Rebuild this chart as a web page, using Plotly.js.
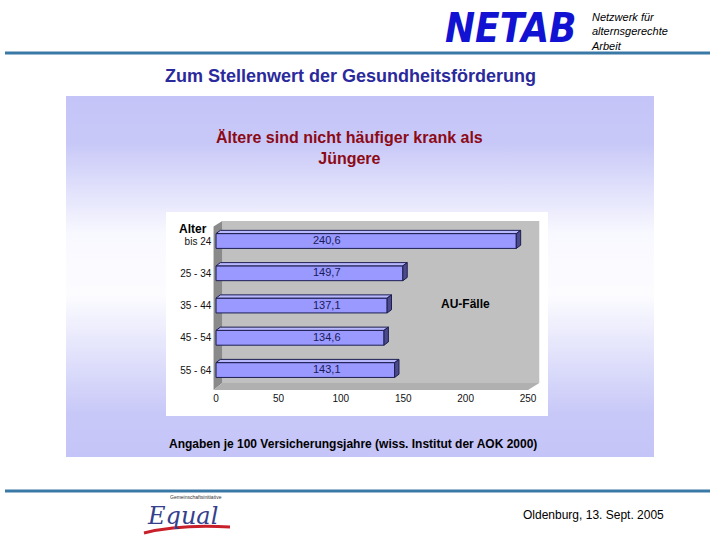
<!DOCTYPE html>
<html>
<head>
<meta charset="utf-8">
<script src="https://cdn.plot.ly/plotly-3.0.1.min.js"></script>
<style>html,body{margin:0;padding:0;background:#fff;}#chart{width:720px;height:540px;}</style>
</head>
<body>
<div id="chart"></div>
<script>
// ---- data ----
const ageGroups = ["bis 24", "25 - 34", "35 - 44", "45 - 54", "55 - 64"];
const auFaelle = [240.6, 149.7, 137.1, 134.6, 143.1];
const xTickVals = [0, 50, 100, 150, 200, 250];
const slideTitle = "Zum Stellenwert der Gesundheitsförderung";
const chartTitle = "Ältere sind nicht häufiger krank als<br>Jüngere";
const sourceNote = "Angaben je 100 Versicherungsjahre (wiss. Institut der AOK 2000)";
const seriesName = "AU-Fälle";
const axisName = "Alter";
const footerText = "Oldenburg, 13. Sept. 2005";
const orgLines = "Netzwerk für<br>alternsgerechte<br>Arbeit";

// ---- helpers ----
const W = 720, H = 540;
const px = v => v / W;
const py = v => 1 - v / H;
const idx = ageGroups.map((_, i) => i);
const fmt = v => v.toFixed(1).replace('.', ',');

const barW = 0.46, dx = 3.5, dy = 0.1;
const topX = [], topY = [], sideX = [], sideY = [];
auFaelle.forEach((v, i) => {
  const t = i - barW / 2, b = i + barW / 2;
  topX.push(0, v, v + dx, dx, 0, null);
  topY.push(t, t, t - dy, t - dy, t, null);
  sideX.push(v, v + dx, v + dx, v, v, null);
  sideY.push(t, t - dy, b - dy, b, t, null);
});

const gradSvg = "data:image/svg+xml;utf8," + encodeURIComponent(
  '<svg xmlns="http://www.w3.org/2000/svg" width="100" height="100" preserveAspectRatio="none">' +
  '<defs><linearGradient id="g" x1="0" y1="0" x2="0" y2="1">' +
  '<stop offset="0" stop-color="#c4c4f8"/><stop offset="0.13" stop-color="#c8c8f8"/>' +
  '<stop offset="0.38" stop-color="#f8f8ff"/><stop offset="0.55" stop-color="#fcfcff"/>' +
  '<stop offset="0.88" stop-color="#c8c8f8"/><stop offset="1" stop-color="#c4c4f8"/>' +
  '</linearGradient></defs><rect width="100" height="100" fill="url(#g)"/></svg>');

const traces = [
  {
    type: 'bar', orientation: 'h', y: idx, x: auFaelle, width: barW,
    marker: {color: '#9999ff', line: {color: '#1e1e50', width: 1}},
    hoverinfo: 'skip', showlegend: false
  },
  {
    type: 'scatter', mode: 'lines', x: topX, y: topY, fill: 'toself',
    fillcolor: '#b8b8ff', line: {color: '#1e1e50', width: 1},
    hoverinfo: 'skip', showlegend: false
  },
  {
    type: 'scatter', mode: 'lines', x: sideX, y: sideY, fill: 'toself',
    fillcolor: '#4a4a8c', line: {color: '#1e1e50', width: 1},
    hoverinfo: 'skip', showlegend: false
  }
];

function note(text, x, y, size, color, extra) {
  return Object.assign({text: text, x: px(x), y: py(y), xref: 'paper', yref: 'paper', showarrow: false,
    xanchor: 'center', yanchor: 'middle',
    font: {family: 'Liberation Sans, Arial', size: size, color: color}}, extra || {});
}

const annotations = [
  note('<b><i>NETAB</i></b>', 510, 28, 40, '#1212d2',
       {font: {family: 'Liberation Sans Narrow, DejaVu Sans Condensed, Arial', size: 40, color: '#1212d2'}}),
  note('<i>' + orgLines + '</i>', 589, 9, 11, '#000', {xanchor: 'left', yanchor: 'top', align: 'left'}),
  note('<b>' + slideTitle + '</b>', 350, 76, 18, '#2a2a9c'),
  note('<b>' + chartTitle + '</b>', 349, 148, 16, '#8c0a16'),
  note('<b>' + axisName + '</b>', 193, 229, 12, '#000'),
  note('<b>' + seriesName + '</b>', 465, 304, 12, '#000'),
  note('<b>' + sourceNote + '</b>', 353, 444, 12, '#000'),
  note(footerText, 593, 515, 12, '#000'),
  note('<i>Equal</i>', 182, 516, 24, '#34408c',
       {font: {family: 'DejaVu Serif, Liberation Serif', size: 24, color: '#34408c'}}),
  note('Gemeinschaftsinitiative', 196, 497, 5, '#333')
];
auFaelle.forEach((v, i) => {
  annotations.push({text: fmt(v), x: 89, y: i - 0.03, xref: 'x', yref: 'y', showarrow: false,
    xanchor: 'center', yanchor: 'middle',
    font: {family: 'Liberation Sans, Arial', size: 11, color: '#1a1a5a'}});
});

const shapes = [
  // white chart box
  {type: 'rect', xref: 'paper', yref: 'paper', x0: px(166), x1: px(548), y0: py(416), y1: py(212),
   fillcolor: '#ffffff', line: {width: 0}, layer: 'below'},
  // back wall
  {type: 'path', xref: 'x', yref: 'y', path: 'M 5 -0.62 L 259 -0.62 L 259 4.4 L 5 4.4 Z',
   fillcolor: '#c0c0c0', line: {width: 0}, layer: 'below'},
  // left wall
  {type: 'path', xref: 'x', yref: 'y', path: 'M -2 -0.45 L 5 -0.62 L 5 4.4 L -2 4.62 Z',
   fillcolor: '#8a8a8a', line: {width: 0}, layer: 'below'},
  // floor
  {type: 'path', xref: 'x', yref: 'y', path: 'M -2 4.62 L 250 4.62 L 259 4.4 L 5 4.4 Z',
   fillcolor: '#b0b0b0', line: {width: 0}, layer: 'below'},
  // header line
  {type: 'line', xref: 'paper', yref: 'paper', x0: px(5), x1: px(710), y0: py(53), y1: py(53),
   line: {color: '#3a78a6', width: 3}},
  // footer line
  {type: 'line', xref: 'paper', yref: 'paper', x0: px(5), x1: px(710), y0: py(491), y1: py(491),
   line: {color: '#3a78a6', width: 3}},
  // Equal swoosh
  {type: 'path', xref: 'paper', yref: 'paper',
   path: 'M ' + px(144) + ' ' + py(533) + ' Q ' + px(180) + ' ' + py(524) + ' ' + px(230) + ' ' + py(527),
   line: {color: '#c8202a', width: 3}}
];

const layout = {
  width: W, height: H,
  margin: {l: 0, r: 0, t: 0, b: 0},
  paper_bgcolor: '#ffffff', plot_bgcolor: 'rgba(0,0,0,0)',
  barmode: 'overlay',
  xaxis: {
    domain: [px(212.3), px(540.5)], range: [-3, 260],
    tickvals: xTickVals, showgrid: false, zeroline: false, showline: false, ticks: '',
    tickfont: {family: 'Liberation Sans, Arial', size: 10, color: '#111'}, fixedrange: true
  },
  yaxis: {
    domain: [py(391), py(221)], range: [4.65, -0.62],
    tickvals: idx, ticktext: ageGroups, showgrid: false, zeroline: false, showline: false, ticks: '',
    tickfont: {family: 'Liberation Sans, Arial', size: 10, color: '#111'}, fixedrange: true
  },
  images: [{source: gradSvg, xref: 'paper', yref: 'paper', x: px(66), y: py(96),
    sizex: 588 / W, sizey: 361 / H, sizing: 'stretch', xanchor: 'left', yanchor: 'top', layer: 'below'}],
  shapes: shapes,
  annotations: annotations
};

Plotly.newPlot('chart', traces, layout, {displayModeBar: false, staticPlot: true});
</script>
</body>
</html>
